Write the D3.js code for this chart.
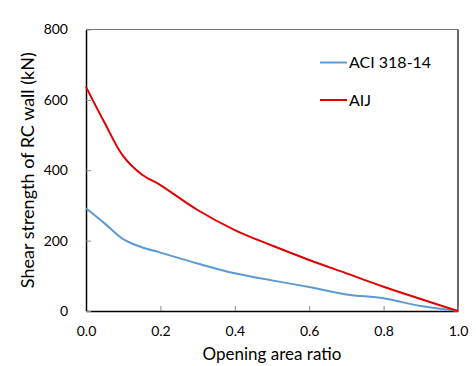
<!DOCTYPE html>
<html><head><meta charset="utf-8">
<script src="https://cdn.jsdelivr.net/npm/d3@7"></script>
<style>body{margin:0;background:#fff}svg{display:block}text{font-family:Lato,"Open Sans",sans-serif;fill:#000}</style>
</head><body>
<script>
const ratios = [0, 0.05, 0.1, 0.15, 0.2, 0.3, 0.4, 0.5, 0.6, 0.7, 0.8, 0.9, 1.0];
const aciValues = [292, 249, 204, 181, 166, 135, 107, 87, 68, 47, 36, 14, 0];
const aijValues = [637, 535, 440, 388, 358, 287, 230, 186, 145, 107, 69, 34, 0];
const xTicks = [0, 0.2, 0.4, 0.6, 0.8, 1.0];
const yTicks = [0, 200, 400, 600, 800];
const seriesNames = ["ACI 318-14", "AIJ"];
const seriesColors = ["#5b9bd5", "#e00000"];

const W = 476, H = 366;
const m = {l: 86, r: 18, t: 29.5, b: 55};
const svg = d3.select("body").append("svg").attr("width", W).attr("height", H);
const x = d3.scaleLinear().domain([0, 1]).range([m.l, W - m.r]);
const y = d3.scaleLinear().domain([0, 800]).range([H - m.b, m.t]);

// plot border
svg.append("line").attr("x1", x(0)).attr("x2", x(1)).attr("y1", y(800)).attr("y2", y(800)).attr("stroke", "#777").attr("stroke-width", 1);
svg.append("line").attr("x1", x(1)).attr("x2", x(1)).attr("y1", y(800)).attr("y2", y(0)).attr("stroke", "#000").attr("stroke-width", 1.2);

const xa = svg.append("g").attr("transform", `translate(0,${y(0)})`)
  .call(d3.axisBottom(x).tickValues(xTicks).tickFormat(d3.format(".1f")).tickSizeInner(-5).tickSizeOuter(0).tickPadding(15));
const ya = svg.append("g").attr("transform", `translate(${x(0)},0)`)
  .call(d3.axisLeft(y).tickValues(yTicks).tickFormat(d3.format("d")).tickSizeInner(-5).tickSizeOuter(0).tickPadding(18));
[xa, ya].forEach(g => {
  g.select(".domain").attr("stroke", "#000").attr("stroke-width", 1.5);
  g.selectAll(".tick line").attr("stroke", "#888").attr("stroke-width", 1);
  g.selectAll(".tick text").attr("font-size", 14).attr("font-family", "Lato, sans-serif").attr("fill", "#000");
});

const line = d3.line().x((d, i) => x(ratios[i])).y(d => y(d)).curve(d3.curveCatmullRom.alpha(0.5));
[aciValues, aijValues].forEach((vals, i) => {
  svg.append("path").datum(vals).attr("d", line).attr("fill", "none")
    .attr("stroke", seriesColors[i]).attr("stroke-width", 2);
});

// legend
const lg = svg.append("g");
seriesNames.forEach((n, i) => {
  const ly = 62.5 + i * 37.5;
  lg.append("line").attr("x1", 320).attr("x2", 347).attr("y1", ly).attr("y2", ly).attr("stroke", seriesColors[i]).attr("stroke-width", 2);
  lg.append("text").attr("x", 349).attr("y", ly + 5.5).attr("font-size", 16).text(n);
});

svg.append("text").attr("x", (x(0) + x(1)) / 2).attr("y", 360).attr("text-anchor", "middle").attr("font-size", 17).text("Opening area ratio");
svg.append("text").attr("transform", `translate(34,${(y(0) + y(800)) / 2}) rotate(-90)`).attr("text-anchor", "middle").attr("font-size", 18).text("Shear strength of RC wall (kN)");
</script>
</body></html>
